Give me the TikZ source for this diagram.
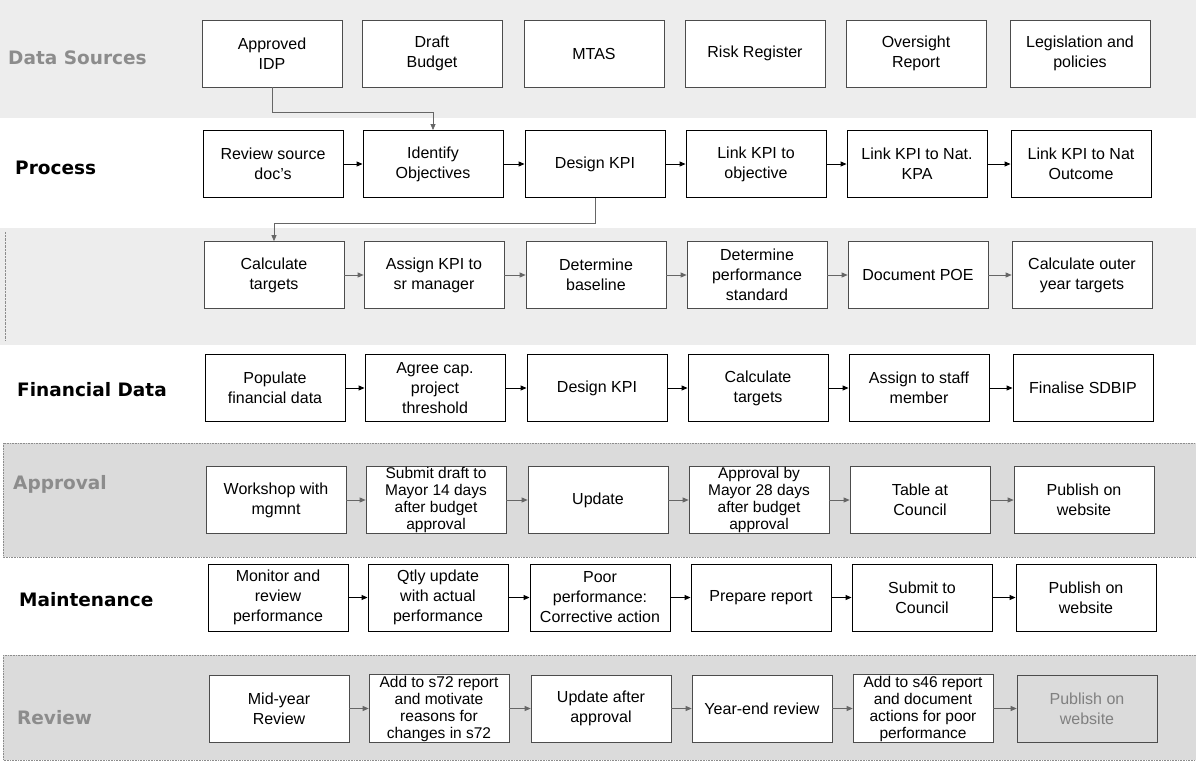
\documentclass[tikz,border=0pt]{standalone}
\usepackage{fontspec}
\setmainfont{Liberation Sans}
\newfontfamily\labelfont{DejaVu Sans}
\usetikzlibrary{arrows.meta}
\begin{document}
\begin{tikzpicture}[x=1pt,y=-1pt,
 box/.style={draw=black,line width=0.9pt,fill=white,minimum width=140pt,minimum height=67pt,inner sep=1pt,align=center,font=\fontsize{16}{20}\selectfont},
 lbox/.style={box,draw=black!70,line width=0.7pt},
 tight/.style={font=\fontsize{15.5}{17}\selectfont},
 lab/.style={anchor=west,font=\labelfont\bfseries\fontsize{18.5}{21}\selectfont,inner sep=0pt},
 glab/.style={lab,text=black!45},
 arr/.style={-{Triangle[length=6pt,width=5pt]},line width=0.9pt},
 larr/.style={-{Triangle[length=6pt,width=5pt]},draw=black!60,line width=0.7pt},
 dband/.style={fill=black!14,draw=black!45,densely dotted,line width=0.6pt},
 ]
\useasboundingbox (0,0) rectangle (1196,763);
% background bands
\fill[black!7] (0,0) rectangle (1196,118);
\fill[black!7] (0,228) rectangle (1196,345);
\draw[black!45,densely dotted] (5,232) -- (5,340);
\filldraw[dband] (3,443) rectangle (1196,557);
\filldraw[dband] (3,655) rectangle (1196,760);
% labels
\node[glab] (l1) at (8,58) {Data Sources};
\node[lab] (l2) at (15,168) {Process};
\node[lab] (l4) at (17,390) {Financial Data};
\node[glab] (l5) at (13,484) {Approval};
\node[lab] (l6) at (19,600) {Maintenance};
\node[glab] (l7) at (17,718) {Review};
% row 1
\node[lbox] (r1c1) at (272,53.5) {Approved\\IDP};
\node[lbox] (r1c2) at (432,53.5) {Draft\\Budget};
\node[lbox] (r1c3) at (594,53.5) {MTAS};
\node[lbox] (r1c4) at (755,53.5) {Risk Register};
\node[lbox] (r1c5) at (916,53.5) {Oversight\\Report};
\node[lbox] (r1c6) at (1080,53.5) {Legislation and\\policies};
% row 2
\node[box] (r2c1) at (273,164) {Review source\\doc's};
\node[box] (r2c2) at (433,164) {Identify\\Objectives};
\node[box] (r2c3) at (595,164) {Design KPI};
\node[box] (r2c4) at (756,164) {Link KPI to\\objective};
\node[box] (r2c5) at (917,164) {Link KPI to Nat.\\KPA};
\node[box] (r2c6) at (1081,164) {Link KPI to Nat\\Outcome};
% row 3
\node[lbox] (r3c1) at (274,275) {Calculate\\targets};
\node[lbox] (r3c2) at (434,275) {Assign KPI to\\sr manager};
\node[lbox] (r3c3) at (596,275) {Determine\\baseline};
\node[lbox] (r3c4) at (757,275) {Determine\\performance\\standard};
\node[lbox] (r3c5) at (918,275) {Document POE};
\node[lbox] (r3c6) at (1082,275) {Calculate outer\\year targets};
% row 4
\node[box] (r4c1) at (275,388) {Populate\\financial data};
\node[box] (r4c2) at (435,388) {Agree cap.\\project\\threshold};
\node[box] (r4c3) at (597,388) {Design KPI};
\node[box] (r4c4) at (758,388) {Calculate\\targets};
\node[box] (r4c5) at (919,388) {Assign to staff\\member};
\node[box] (r4c6) at (1083,388) {Finalise SDBIP};
% row 5
\node[lbox] (r5c1) at (276,500) {Workshop with\\mgmnt};
\node[lbox,tight] (r5c2) at (436,500) {Submit draft to\\Mayor 14 days\\after budget\\approval};
\node[lbox] (r5c3) at (598,500) {Update};
\node[lbox,tight] (r5c4) at (759,500) {Approval by\\Mayor 28 days\\after budget\\approval};
\node[lbox] (r5c5) at (920,500) {Table at\\Council};
\node[lbox] (r5c6) at (1084,500) {Publish on\\website};
% row 6
\node[box] (r6c1) at (278,597.5) {Monitor and\\review\\performance};
\node[box] (r6c2) at (438,597.5) {Qtly update\\with actual\\performance};
\node[box] (r6c3) at (600,597.5) {Poor\\performance:\\Corrective action};
\node[box] (r6c4) at (761,597.5) {Prepare report};
\node[box] (r6c5) at (922,597.5) {Submit to\\Council};
\node[box] (r6c6) at (1086,597.5) {Publish on\\website};
% row 7
\node[lbox] (r7c1) at (279,708.5) {Mid-year\\Review};
\node[lbox,tight] (r7c2) at (439,708.5) {Add to s72 report\\and motivate\\reasons for\\changes in s72};
\node[lbox] (r7c3) at (601,708.5) {Update after\\approval};
\node[lbox] (r7c4) at (762,708.5) {Year-end review};
\node[lbox,tight] (r7c5) at (923,708.5) {Add to s46 report\\and document\\actions for poor\\performance};
\node[lbox,fill=black!14,text=black!50] (r7c6) at (1087,708.5) {Publish on\\website};
% connectors between rows
\draw[larr] (r1c1.south) -- ++(0,25) -| (r2c2.north);
\draw[larr] (r2c3.south) -- ++(0,25) -| (r3c1.north);
% row arrows
\foreach \r/\s in {2/arr,3/larr,4/arr,5/larr,6/arr,7/larr}{
  \foreach \a/\b in {1/2,2/3,3/4,4/5,5/6}{
    \draw[\s] (r\r c\a.east) -- (r\r c\b.west);
  }
}
\end{tikzpicture}
\end{document}
